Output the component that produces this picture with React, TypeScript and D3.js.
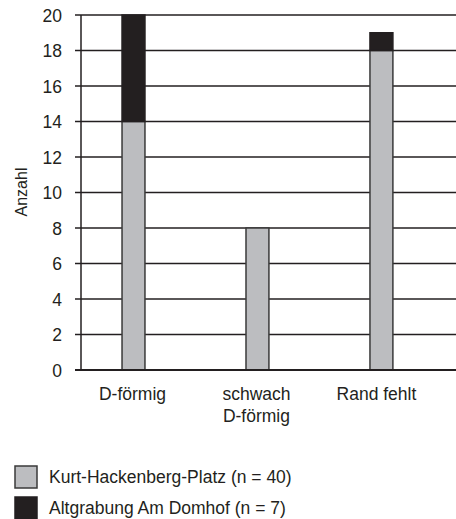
import React from "react";
import * as d3 from "d3";

const categories = ["D-förmig", "schwach\nD-förmig", "Rand fehlt"];
const kurtValues = [14, 8, 18];
const altValues = [6, 0, 1];
const seriesNames = ["Kurt-Hackenberg-Platz (n = 40)", "Altgrabung Am Domhof (n = 7)"];
const yTicks = [0, 2, 4, 6, 8, 10, 12, 14, 16, 18, 20];

const W = 456;
const H = 519;
const left = 81;
const right = 456;
const top = 15;
const bottom = 370;
const colors = ["#bcbdc0", "#231f20"];
const font = "'Liberation Sans', Arial, sans-serif";

export default function App() {
  const x = d3
    .scaleBand<string>()
    .domain(categories)
    .range([left, right])
    .paddingInner(0.815)
    .paddingOuter(0.42)
    .align(0.394);
  const y = d3.scaleLinear().domain([0, 20]).range([bottom, top]);

  const rows = categories.map((c, i) => ({ cat: c, kurt: kurtValues[i], alt: altValues[i] }));
  const stack = d3.stack<any>().keys(["kurt", "alt"])(rows);

  return (
    <svg width={W} height={H} style={{ position: "absolute", left: 0, top: 0 }}>
      <rect width={W} height={H} fill="#fff" />
      {yTicks.map((t) => (
        <line
          key={t}
          x1={left - 6}
          x2={right}
          y1={y(t)}
          y2={y(t)}
          stroke="#231f20"
          strokeWidth={t === 0 ? 2 : 1.5}
        />
      ))}
      {stack.map((s, si) =>
        s.map((d, i) =>
          d[1] - d[0] > 0 ? (
            <rect
              key={si + "-" + i}
              x={x(categories[i])}
              width={x.bandwidth()}
              y={y(d[1])}
              height={y(d[0]) - y(d[1])}
              fill={colors[si]}
              stroke={si === 0 ? "#3a3a3a" : "#231f20"}
              strokeWidth={1.5}
            />
          ) : null
        )
      )}
      <line x1={left - 6} x2={right} y1={y(0)} y2={y(0)} stroke="#231f20" strokeWidth={2} />
      <line x1={left} x2={left} y1={top} y2={bottom} stroke="#231f20" strokeWidth={1.5} />
      {yTicks.map((t) => (
        <text
          key={t}
          x={62}
          y={y(t)}
          dy="0.38em"
          textAnchor="end"
          fontFamily={font}
          fontSize={17.5}
          fill="#231f20"
        >
          {t}
        </text>
      ))}
      <text
        transform={`translate(27,192) rotate(-90)`}
        textAnchor="middle"
        fontFamily={font}
        fontSize={16}
        fill="#231f20"
      >
        Anzahl
      </text>
      {categories.map((c, i) => {
        const lines = c.split("\n");
        const cx = (x(c) as number) + x.bandwidth() / 2 + (i === 2 ? -5 : -1);
        return (
          <text key={c} textAnchor="middle" fontFamily={font} fontSize={17.5} fill="#231f20">
            {lines.map((l, li) => (
              <tspan key={li} x={cx} y={400 + li * 21.5}>
                {l}
              </tspan>
            ))}
          </text>
        );
      })}
      {seriesNames.map((n, i) => (
        <g key={n} transform={`translate(15,${466 + i * 31})`}>
          <rect
            width={22}
            height={22}
            fill={colors[i]}
            stroke={i === 0 ? "#3a3a3a" : "#231f20"}
            strokeWidth={1.5}
          />
          <text x={34} y={17} fontFamily={font} fontSize={17.5} fill="#231f20">
            {n}
          </text>
        </g>
      ))}
    </svg>
  );
}
